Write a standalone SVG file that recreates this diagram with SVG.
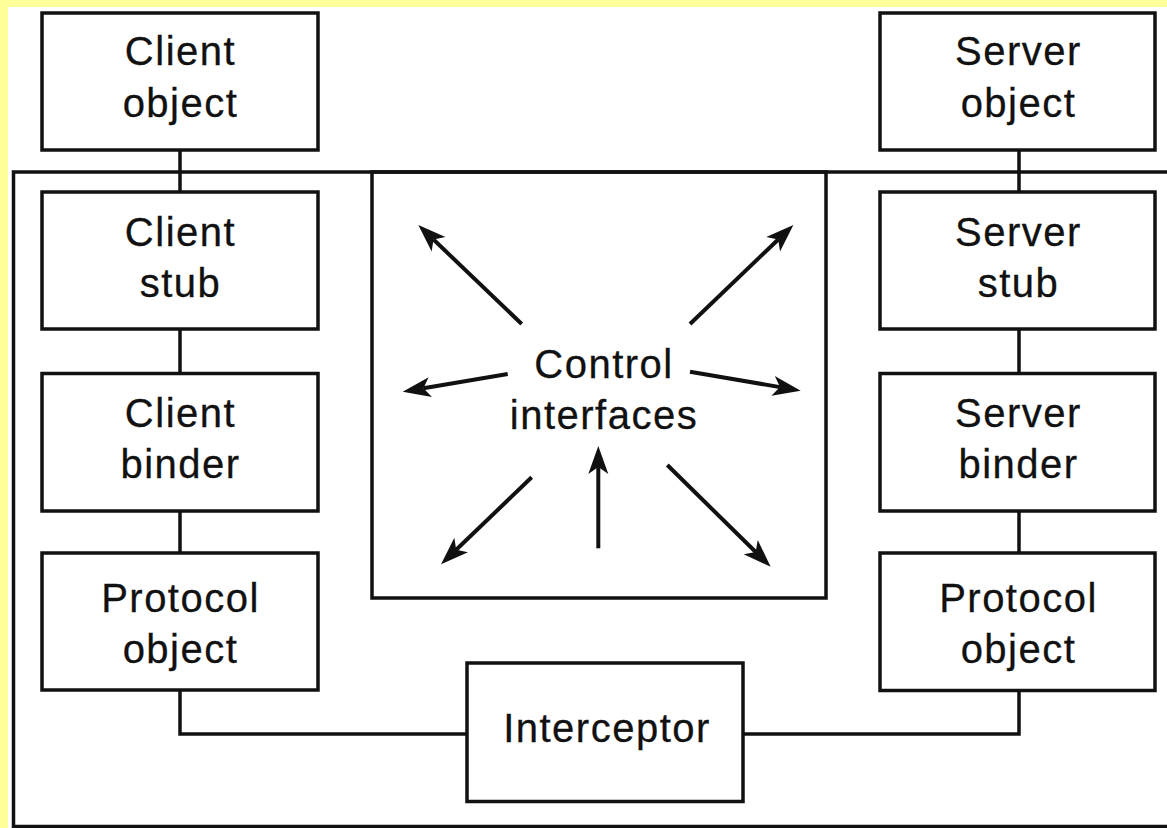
<svg xmlns="http://www.w3.org/2000/svg" width="1167" height="828" viewBox="0 0 1167 828">
  <defs>
    <style>
      .box { fill: #ffffff; stroke: #111111; stroke-width: 3.5; }
      .frame { fill: none; stroke: #111111; stroke-width: 3.5; }
      .wire { fill: none; stroke: #111111; stroke-width: 3.5; }
      .ray { fill: none; stroke: #111111; stroke-width: 4; marker-end: url(#head); }
      text { font-family: "Liberation Sans", Arial, Helvetica, sans-serif; font-size: 40px; letter-spacing: 1.5px; fill: #111111; stroke: #111111; stroke-width: 0.3; text-anchor: middle; }
    </style>
    <marker id="head" viewBox="0 0 28 22" refX="7" refY="11" markerWidth="28" markerHeight="22" markerUnits="userSpaceOnUse" orient="auto">
      <path d="M0,1 L28,11 L0,21 L7,11 Z" fill="#111111"/>
    </marker>
  </defs>

  <!-- page background -->
  <rect x="0" y="0" width="1167" height="828" fill="#ffff99"/>
  <rect x="8" y="7" width="1159" height="821" fill="#ffffff"/>

  <!-- enclosing middleware frame and control-interface panel -->
  <g id="frame">
    <rect class="frame" x="13.5" y="172" width="1170" height="654.5"/>
    <rect class="frame" x="372" y="172" width="454" height="426"/>
  </g>

  <!-- connectors -->
  <g id="connectors">
    <line class="wire" x1="180" y1="150" x2="180" y2="192"/>
    <line class="wire" x1="180" y1="329" x2="180" y2="373"/>
    <line class="wire" x1="180" y1="511" x2="180" y2="553"/>
    <polyline class="wire" points="180,690 180,734 467,734"/>
    <line class="wire" x1="1019" y1="150" x2="1019" y2="192"/>
    <line class="wire" x1="1019" y1="329" x2="1019" y2="373"/>
    <line class="wire" x1="1019" y1="511" x2="1019" y2="553"/>
    <polyline class="wire" points="743,734 1019,734 1019,690"/>

    <line class="ray" x1="521.7" y1="324" x2="433.5" y2="239.5"/>
    <line class="ray" x1="690" y1="324" x2="778.2" y2="239.5"/>
    <line class="ray" x1="507.7" y1="374" x2="423.4" y2="388.2"/>
    <line class="ray" x1="690" y1="371.7" x2="780" y2="387.1"/>
    <line class="ray" x1="531.7" y1="477.3" x2="456.2" y2="549.8"/>
    <line class="ray" x1="598.3" y1="548.3" x2="598.3" y2="467"/>
    <line class="ray" x1="667.3" y1="465" x2="755.7" y2="552"/>
  </g>

  <!-- client side -->
  <g id="client-object">
    <rect class="box" x="42" y="13" width="276" height="137"/>
    <text x="180.5" y="65">Client</text>
    <text x="180.5" y="116.5">object</text>
  </g>
  <g id="client-stub">
    <rect class="box" x="42" y="192" width="276" height="137"/>
    <text x="180.5" y="246">Client</text>
    <text x="180.5" y="297">stub</text>
  </g>
  <g id="client-binder">
    <rect class="box" x="42" y="373.5" width="276" height="137.5"/>
    <text x="180.5" y="427">Client</text>
    <text x="180.5" y="478.3">binder</text>
  </g>
  <g id="client-protocol">
    <rect class="box" x="42" y="553" width="276" height="137"/>
    <text x="180.5" y="611.7">Protocol</text>
    <text x="180.5" y="662.7">object</text>
  </g>

  <!-- server side -->
  <g id="server-object">
    <rect class="box" x="880" y="13" width="275" height="137"/>
    <text x="1018.5" y="65">Server</text>
    <text x="1018.5" y="116.5">object</text>
  </g>
  <g id="server-stub">
    <rect class="box" x="880" y="192" width="275" height="137"/>
    <text x="1018.5" y="246">Server</text>
    <text x="1018.5" y="297">stub</text>
  </g>
  <g id="server-binder">
    <rect class="box" x="880" y="373.5" width="275" height="137.5"/>
    <text x="1018.5" y="427">Server</text>
    <text x="1018.5" y="478.3">binder</text>
  </g>
  <g id="server-protocol">
    <rect class="box" x="880" y="553" width="275" height="137.5"/>
    <text x="1018.5" y="611.7">Protocol</text>
    <text x="1018.5" y="662.7">object</text>
  </g>

  <!-- control interfaces label -->
  <g id="control-interfaces">
    <text x="604" y="378.3">Control</text>
    <text x="604" y="429.3">interfaces</text>
  </g>

  <!-- interceptor -->
  <g id="interceptor">
    <rect class="box" x="467" y="663" width="276" height="138.5"/>
    <text x="607" y="741.7">Interceptor</text>
  </g>
</svg>
